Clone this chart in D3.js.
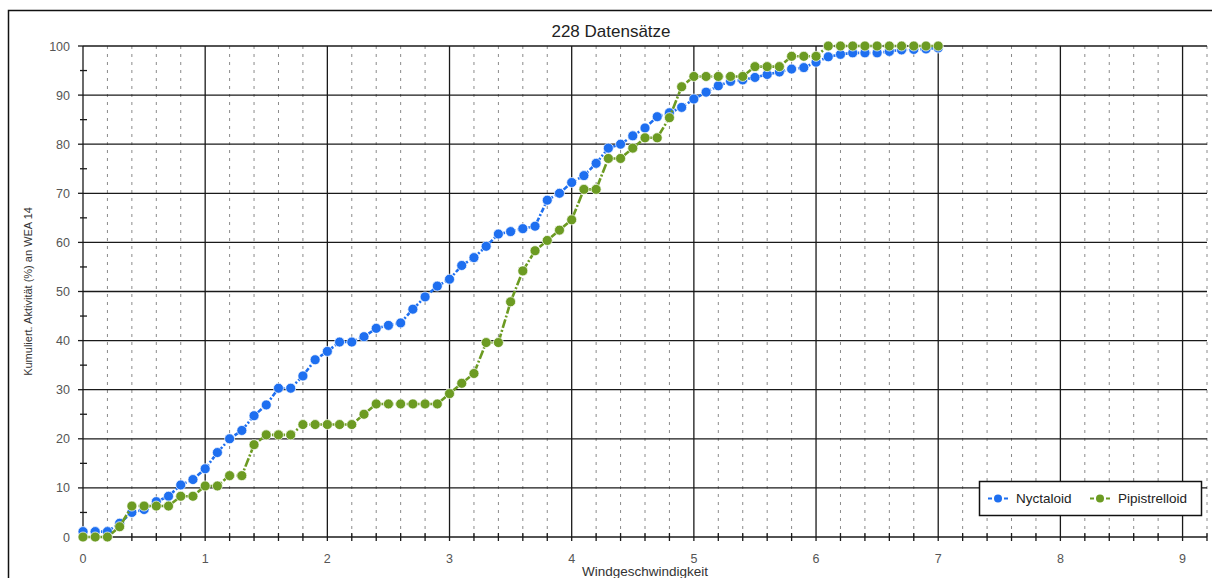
<!DOCTYPE html>
<html>
<head>
<meta charset="utf-8">
<script src="https://cdn.jsdelivr.net/npm/d3@7/dist/d3.min.js"></script>
<style>
  html, body { margin: 0; padding: 0; background: #fff; }
  svg { display: block; font-family: "Liberation Sans", Arial, sans-serif; }
</style>
</head>
<body>
<svg id="chart" width="1212" height="578"></svg>
<script>
// Wind speed classes (m/s)
const windSpeed = [
  0.0, 0.1, 0.2, 0.3, 0.4, 0.5, 0.6, 0.7, 0.8, 0.9,
  1.0, 1.1, 1.2, 1.3, 1.4, 1.5, 1.6, 1.7, 1.8, 1.9,
  2.0, 2.1, 2.2, 2.3, 2.4, 2.5, 2.6, 2.7, 2.8, 2.9,
  3.0, 3.1, 3.2, 3.3, 3.4, 3.5, 3.6, 3.7, 3.8, 3.9,
  4.0, 4.1, 4.2, 4.3, 4.4, 4.5, 4.6, 4.7, 4.8, 4.9,
  5.0, 5.1, 5.2, 5.3, 5.4, 5.5, 5.6, 5.7, 5.8, 5.9,
  6.0, 6.1, 6.2, 6.3, 6.4, 6.5, 6.6, 6.7, 6.8, 6.9,
  7.0
];

// Cumulative activity (%) per group
const nyctaloid = [
  1.1, 1.1, 1.1, 2.8, 5.0, 5.6, 7.2, 8.3, 10.6, 11.7,
  13.9, 17.2, 20.0, 21.7, 24.7, 26.9, 30.3, 30.3, 32.8, 36.1,
  37.8, 39.7, 39.7, 40.8, 42.5, 43.1, 43.6, 46.4, 48.9, 51.1,
  52.5, 55.3, 56.9, 59.2, 61.7, 62.2, 62.8, 63.3, 68.6, 70.0,
  72.2, 73.6, 76.1, 79.2, 80.0, 81.7, 83.3, 85.6, 86.4, 87.5,
  89.2, 90.6, 91.9, 92.8, 93.1, 93.6, 94.2, 94.7, 95.3, 95.6,
  96.7, 97.8, 98.3, 98.6, 98.6, 98.6, 98.9, 99.2, 99.3, 99.4,
  99.6
];
const pipistrelloid = [
  0.0, 0.0, 0.0, 2.1, 6.3, 6.3, 6.3, 6.3, 8.3, 8.3,
  10.4, 10.4, 12.5, 12.5, 18.8, 20.8, 20.8, 20.8, 22.9, 22.9,
  22.9, 22.9, 22.9, 25.0, 27.1, 27.1, 27.1, 27.1, 27.1, 27.1,
  29.2, 31.3, 33.3, 39.6, 39.6, 47.9, 54.2, 58.3, 60.4, 62.5,
  64.6, 70.8, 70.8, 77.1, 77.1, 79.2, 81.3, 81.3, 85.4, 91.7,
  93.8, 93.8, 93.8, 93.8, 93.8, 95.8, 95.8, 95.8, 97.9, 97.9,
  97.9, 100, 100, 100, 100, 100, 100, 100, 100, 100,
  100
];

const seriesNames = ["Nyctaloid", "Pipistrelloid"];
const seriesColors = ["#1e6ff0", "#6c9b22"];

const xTickLabels = [0, 1, 2, 3, 4, 5, 6, 7, 8, 9];
const yTickLabels = [0, 10, 20, 30, 40, 50, 60, 70, 80, 90, 100];

const titleText = "228 Datensätze";
const xTitle = "Windgeschwindigkeit";
const yTitle = "Kumuliert. Aktivität (%) an WEA 14";

const svg = d3.select("#chart");
const x = d3.scaleLinear().domain([0, 9.2]).range([83, 1207]);
const y = d3.scaleLinear().domain([0, 100]).range([537, 46]);

// outer frame
svg.append("rect")
  .attr("x", 8.5).attr("y", 10.5)
  .attr("width", 1220).attr("height", 590)
  .attr("fill", "none").attr("stroke", "#111").attr("stroke-width", 1.5);

const grid = svg.append("g");
// minor dashed verticals every 0.2
const minorX = d3.range(1, 47).map(i => +(i * 0.2).toFixed(1)).filter(v => Math.abs(v - Math.round(v)) > 1e-6);
grid.selectAll("line.minor").data(minorX).join("line")
  .attr("x1", d => x(d)).attr("x2", d => x(d))
  .attr("y1", y(100)).attr("y2", y(0))
  .attr("stroke", "#8a8a8a").attr("stroke-width", 1)
  .attr("stroke-dasharray", "3,5");

// major solid horizontals
grid.selectAll("line.h").data(yTickLabels).join("line")
  .attr("x1", x(0)).attr("x2", x(9.2))
  .attr("y1", d => y(d)).attr("y2", d => y(d))
  .attr("stroke", "#1a1a1a").attr("stroke-width", 1.3);

// major solid verticals
grid.selectAll("line.v").data(xTickLabels).join("line")
  .attr("x1", d => x(d)).attr("x2", d => x(d))
  .attr("y1", y(100)).attr("y2", y(0) + 4)
  .attr("stroke", "#1a1a1a").attr("stroke-width", 1.3);

// x axis minor ticks crossing the baseline
svg.append("g").selectAll("line").data(minorX).join("line")
  .attr("x1", d => x(d)).attr("x2", d => x(d))
  .attr("y1", y(0) - 4).attr("y2", y(0) + 4)
  .attr("stroke", "#1a1a1a").attr("stroke-width", 1.3);

// y axis: major ticks outside, minor ticks crossing at 5s
svg.append("g").selectAll("line").data(yTickLabels).join("line")
  .attr("x1", x(0) - 5).attr("x2", x(0))
  .attr("y1", d => y(d)).attr("y2", d => y(d))
  .attr("stroke", "#1a1a1a").attr("stroke-width", 1.3);
svg.append("g").selectAll("line").data(d3.range(5, 100, 10)).join("line")
  .attr("x1", x(0) - 3).attr("x2", x(0) + 4)
  .attr("y1", d => y(d)).attr("y2", d => y(d))
  .attr("stroke", "#1a1a1a").attr("stroke-width", 1.3);

// tick labels
svg.append("g").selectAll("text").data(yTickLabels).join("text")
  .attr("x", 70).attr("y", d => y(d) + 4.5)
  .attr("text-anchor", "end").attr("font-size", 12.5).attr("fill", "#555")
  .text(d => d);
svg.append("g").selectAll("text").data(xTickLabels).join("text")
  .attr("x", d => x(d)).attr("y", 563)
  .attr("text-anchor", "middle").attr("font-size", 12.5).attr("fill", "#555")
  .text(d => d);

// titles
svg.append("text").attr("x", 611).attr("y", 37)
  .attr("text-anchor", "middle").attr("font-size", 17).attr("fill", "#222")
  .text(titleText);
svg.append("text").attr("x", 645).attr("y", 576)
  .attr("text-anchor", "middle").attr("font-size", 13.5).attr("fill", "#333")
  .text(xTitle);
svg.append("text")
  .attr("transform", `translate(32,${(y(0) + y(100)) / 2}) rotate(-90)`)
  .attr("text-anchor", "middle").attr("font-size", 11).attr("fill", "#333")
  .text(yTitle);

// series
const seriesData = [nyctaloid, pipistrelloid];
const dashes = ["5,2,2,2", "9,2,2,2"];
const line = d3.line().x(d => x(d[0])).y(d => y(d[1]));

seriesData.forEach((vals, i) => {
  const pts = windSpeed.map((w, k) => [w, vals[k]]);
  const g = svg.append("g");
  g.append("path").datum(pts)
    .attr("d", line).attr("fill", "none")
    .attr("stroke", seriesColors[i]).attr("stroke-width", 2.6)
    .attr("stroke-dasharray", dashes[i]);
  g.selectAll("circle").data(pts).join("circle")
    .attr("cx", d => x(d[0])).attr("cy", d => y(d[1])).attr("r", 5)
    .attr("fill", seriesColors[i])
    .attr("stroke", "#fff").attr("stroke-opacity", 0.7).attr("stroke-width", 1);
});

// legend
const lg = svg.append("g");
lg.append("rect").attr("x", 979.5).attr("y", 481.5).attr("width", 222).attr("height", 34)
  .attr("fill", "#fff").attr("stroke", "#111").attr("stroke-width", 1.5);
const legendPos = [{ sx: 998, tx: 1016 }, { sx: 1100, tx: 1118 }];
seriesNames.forEach((name, i) => {
  const p = legendPos[i];
  lg.append("line").attr("x1", p.sx - 10).attr("x2", p.sx + 10)
    .attr("y1", 498.5).attr("y2", 498.5)
    .attr("stroke", seriesColors[i]).attr("stroke-width", 2.2)
    .attr("stroke-dasharray", "4,12");
  lg.append("circle").attr("cx", p.sx).attr("cy", 498.5).attr("r", 4)
    .attr("fill", seriesColors[i]);
  lg.append("text").attr("x", p.tx).attr("y", 503)
    .attr("font-size", 13.5).attr("fill", "#222").text(name);
});
</script>
</body>
</html>
